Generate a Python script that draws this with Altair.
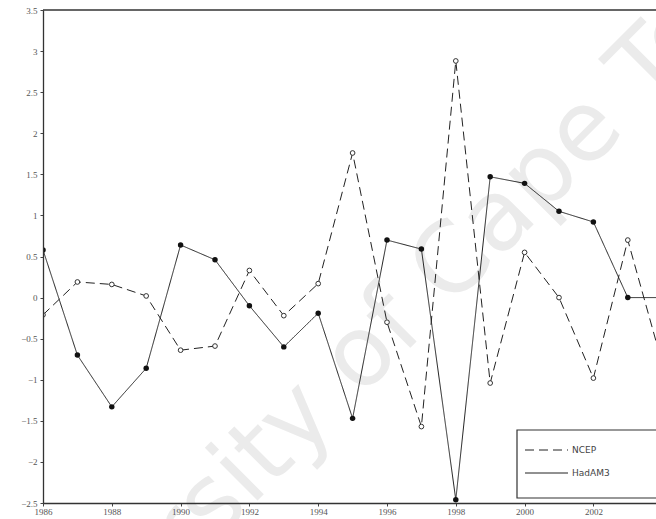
import altair as alt
import pandas as pd

# Annual anomaly series, 1986-2004
years = list(range(1986, 2005))
ncep = [-0.21, 0.19, 0.16, 0.02, -0.64, -0.59, 0.33, -0.22, 0.17, 1.76,
        -0.30, -1.57, 2.88, -1.04, 0.55, 0.00, -0.98, 0.70, -0.80]
hadam3 = [0.58, -0.70, -1.33, -0.86, 0.64, 0.46, -0.10, -0.60, -0.19, -1.47,
          0.70, 0.59, -2.46, 1.47, 1.39, 1.05, 0.92, 0.00, 0.00]

series_names = ["NCEP", "HadAM3"]
x_ticks = list(range(1986, 2003, 2))
y_ticks = [-2.5, -2, -1.5, -1, -0.5, 0, 0.5, 1, 1.5, 2, 2.5, 3, 3.5]

df = pd.DataFrame(
    {"year": years * 2,
     "value": ncep + hadam3,
     "series": [series_names[0]] * len(years) + [series_names[1]] * len(years)}
)

W, H = 613, 493
LABEL_FONT = "Liberation Serif"
DASH = [9, 5]

x_enc = alt.X(
    "year:Q",
    scale=alt.Scale(domain=[1986, 2003.82], nice=False, zero=False),
    axis=alt.Axis(values=x_ticks, format="d", title=None, grid=False,
                  labelFont=LABEL_FONT, labelFontSize=9, labelColor="#555",
                  tickSize=3, tickColor="#444", domainColor="#333",
                  domainWidth=1.3, labelPadding=1, labelFlush=False, zindex=1),
)
y_enc = alt.Y(
    "value:Q",
    scale=alt.Scale(domain=[-2.5, 3.5], nice=False, zero=False),
    axis=alt.Axis(values=y_ticks, format="~g", title=None, grid=False,
                  labelFont=LABEL_FONT, labelFontSize=9, labelColor="#555",
                  tickSize=3, tickColor="#444", domainColor="#333",
                  domainWidth=1.3, labelPadding=3, zindex=1),
)

lines = alt.Chart(df).mark_line(color="#222", strokeWidth=1, clip=True).encode(
    x=x_enc,
    y=y_enc,
    strokeDash=alt.StrokeDash(
        "series:N",
        scale=alt.Scale(domain=series_names, range=[DASH, [1, 0]]),
        legend=None,
    ),
    detail="series:N",
)

open_pts = alt.Chart(df[df.series == "NCEP"]).mark_point(
    shape="circle", size=22, filled=True, fill="white", stroke="#333",
    strokeWidth=1, opacity=1, clip=True
).encode(x=x_enc, y=y_enc)

filled_pts = alt.Chart(df[df.series == "HadAM3"]).mark_point(
    shape="circle", size=30, filled=True, color="#111", opacity=1, clip=True
).encode(x=x_enc, y=y_enc)

# Diagonal watermark behind the data
watermark = alt.Chart(pd.DataFrame({"t": ["University of Cape Town"]})).mark_text(
    angle=315, fontSize=98, font="DejaVu Sans", color="#ebebeb",
    align="center", baseline="middle"
).encode(text="t:N", x=alt.value(342), y=alt.value(322))

# Top frame line
top_line = alt.Chart(pd.DataFrame({"a": [0]})).mark_rule(
    color="#333", strokeWidth=1.3
).encode(x=alt.value(0), x2=alt.value(W), y=alt.value(0))

# Legend panel in the lower-right corner
legend_box = alt.Chart(pd.DataFrame({"a": [0]})).mark_rect(
    fill="white", stroke="#333", strokeWidth=1.2
).encode(x=alt.value(474), x2=alt.value(W + 5), y=alt.value(420), y2=alt.value(488))

legend_rows = [(series_names[0], DASH, 440), (series_names[1], [1, 0], 463)]

legend_rules = [
    alt.Chart(pd.DataFrame({"s": [name]})).mark_rule(
        color="#222", strokeWidth=1, strokeDash=dash
    ).encode(x=alt.value(482), x2=alt.value(525), y=alt.value(ypos))
    for name, dash, ypos in legend_rows
]

legend_texts = [
    alt.Chart(pd.DataFrame({"s": [name]})).mark_text(
        align="left", baseline="middle", font="DejaVu Sans", fontSize=9,
        color="#444"
    ).encode(text="s:N", x=alt.value(529), y=alt.value(ypos))
    for name, dash, ypos in legend_rows
]

chart = alt.layer(
    watermark, top_line, lines, open_pts, filled_pts,
    legend_box, *legend_rules, *legend_texts
).properties(
    width=W, height=H,
    autosize=alt.AutoSizeParams(type="none"),
    padding={"left": 43, "top": 10, "right": 0, "bottom": 16},
    background="white",
).configure_view(stroke=None)

chart.save("out.html", embed_options={"renderer": "svg", "actions": False})
